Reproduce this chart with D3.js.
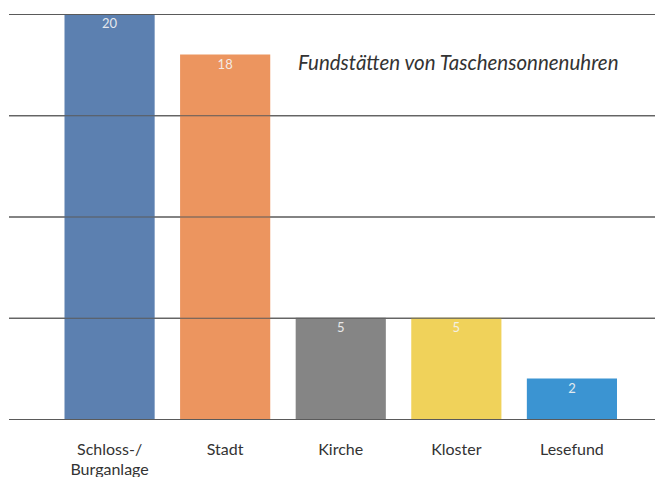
<!DOCTYPE html>
<html><head>
<meta charset="utf-8">
<script src="https://d3js.org/d3.v7.min.js"></script>
<style>
  body { margin: 0; background: #fff; }
  svg text { font-family: Lato, "Open Sans", sans-serif; }
  .gridlines line { stroke: #5a5a5a; stroke-width: 1.2; }
  .gridlines .domain { stroke: none; }
  .xlabel { fill: #333; font-size: 16px; text-anchor: middle; }
  .value { fill: #f4f4f4; font-size: 13px; text-anchor: middle; opacity: 0.9; }
  .title { fill: #333; font-size: 20.5px; font-style: italic; }
</style>
</head>
<body>
<svg id="chart" width="655" height="477"></svg>
<script>
// data
const categories = ["Schloss-/\nBurganlage", "Stadt", "Kirche", "Kloster", "Lesefund"];
const counts = [20, 18, 5, 5, 2];
const barColors = ["#5c80b0", "#ec955f", "#858585", "#f0d25a", "#3b94d2"];
const gridTicks = [0, 5, 10, 15, 20];
const title = "Fundstätten von Taschensonnenuhren";

let svg = d3.select("svg#chart");
let width = +svg.attr("width");

// plot area
let margin = { top: 14, bottom: 58, left: 9 };
let plotBottom = 419;

const x = d3.scaleBand()
  .domain(categories)
  .range([64.5, 617])
  .paddingInner(0.22)
  .paddingOuter(0);

const y = d3.scaleLinear()
  .domain([0, 20])
  .range([plotBottom, margin.top]);

// gridlines (using an axis with long ticks)
let grid = d3.axisLeft(y).tickValues(gridTicks).tickSize(-(width - margin.left)).tickFormat("");
svg.append("g").attr("class", "gridlines")
  .attr("transform", "translate(" + margin.left + ",0)")
  .call(grid);

// bars
let bars = svg.append("g");
categories.forEach((c, i) => {
  bars.append("rect")
    .attr("x", x(c))
    .attr("y", y(counts[i]))
    .attr("width", x.bandwidth())
    .attr("height", y(0) - y(counts[i]))
    .style("fill", barColors[i]);

  bars.append("text").attr("class", "value")
    .attr("x", x(c) + x.bandwidth() / 2)
    .attr("y", y(counts[i]) + 14)
    .text(counts[i]);

  // category labels, may be two lines
  let lines = c.split("\n");
  let t = svg.append("text").attr("class", "xlabel")
    .attr("x", x(c) + x.bandwidth() / 2)
    .attr("y", 455);
  lines.forEach((l, j) => {
    t.append("tspan")
      .attr("x", x(c) + x.bandwidth() / 2)
      .attr("dy", j == 0 ? 0 : 20)
      .text(l);
  });
});

// redraw gridlines over the bar tops (lines sit on top in the original)
svg.append("g").attr("class", "gridlines")
  .attr("transform", "translate(" + margin.left + ",0)")
  .call(grid);

svg.append("text").attr("class", "title")
  .attr("x", 298)
  .attr("y", 70)
  .text(title);
</script>
</body>
</html>
